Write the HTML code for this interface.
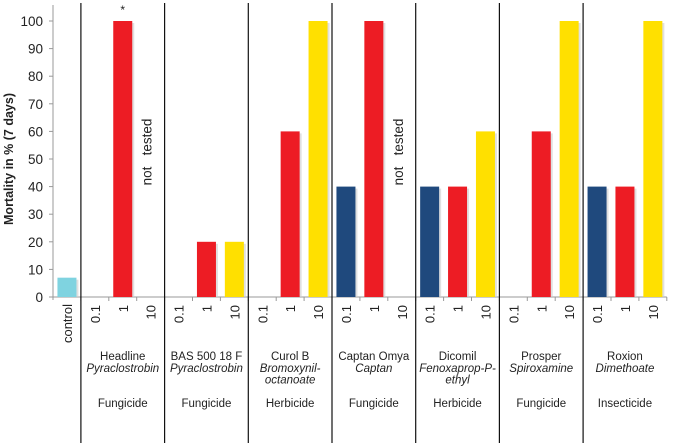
<!DOCTYPE html>
<html><head><meta charset="utf-8"><style>
body{margin:0;background:#fff;}
svg{display:block;font-family:"Liberation Sans",sans-serif;}
</style></head><body>
<svg id="chart" width="675" height="446" viewBox="0 0 675 446"></svg>
<script>
const doses = ["0.1","1","10"];
const controlValue = 7;
const groupNames = ["Headline","BAS 500 18 F","Curol B","Captan Omya","Dicomil","Prosper","Roxion"];
const groupActives = [["Pyraclostrobin"],["Pyraclostrobin"],["Bromoxynil-","octanoate"],["Captan"],["Fenoxaprop-P-","ethyl"],["Spiroxamine"],["Dimethoate"]];
const groupTypes = ["Fungicide","Fungicide","Herbicide","Fungicide","Herbicide","Fungicide","Insecticide"];
const dose01 = [0,0,0,40,40,0,40];
const dose1 = [100,20,60,100,40,60,40];
const dose10 = [null,20,100,null,60,100,100];
const yTicks = [0,10,20,30,40,50,60,70,80,90,100];

const svg = document.getElementById('chart');
const NS = "http://www.w3.org/2000/svg";
const x0 = 53, slotW = 27.9, y0 = 297, pxPer = 2.76, barW = 19;
const colors = ["#1f497d","#ed1c24","#ffe000"];
const y = v => y0 - v * pxPer;
const slotC = i => x0 + (i + 0.5) * slotW;
function mk(tag, attrs, text){const e=document.createElementNS(NS,tag);for(const k in attrs)e.setAttribute(k,attrs[k]);if(text!==undefined)e.textContent=text;svg.appendChild(e);return e;}

let ax = mk('line',{x1:x0,y1:5,x2:x0,y2:y0+3,stroke:'#999','stroke-width':1});


yTicks.forEach(t=>{
  let l=mk('line',{x1:x0-4,y1:y(t),x2:x0,y2:y(t),stroke:'#999'});
  
  
  let tx=mk('text',{x:x0-10,y:y(t)+5,'text-anchor':'end','font-size':13.5,fill:'#222'},String(t));
  
  
});
let yt=mk('text',{x:0,y:0,transform:'translate(13,159) rotate(-90)','text-anchor':'middle','font-size':12.5,'font-weight':'bold',fill:'#222'},'Mortality in % (7 days)');


let xa=mk('line',{x1:x0,y1:y0,x2:x0+22*slotW,y2:y0,stroke:'#999'});


for(let i=1;i<=22;i++){
  let tk=mk('line',{x1:x0+i*slotW,y1:y0,x2:x0+i*slotW,y2:y0+4,stroke:'#999'});
  
  
}
function bar(i,v,color,name){
  if(v===null||v<=0)return;
  let s=mk('rect',{x:slotC(i)-barW/2+2,y:y(v)+2,width:barW,height:v*pxPer-2,fill:'#ccc',opacity:0.6});
  
  
  let r=mk('rect',{x:slotC(i)-barW/2,y:y(v),width:barW,height:v*pxPer,fill:color});
  
  
}
bar(0,controlValue,'#7fd3e0','bar-control');
let cl=mk('text',{x:0,y:0,transform:`translate(${slotC(0)+5},304) rotate(-90)`,'text-anchor':'end','font-size':13,fill:'#222'},'control');


const series=[dose01,dose1,dose10];
groupNames.forEach((g,gi)=>{
  const gx = x0 + slotW*(1+gi*3);
  let sep=mk('line',{x1:gx,y1:3,x2:gx,y2:443,stroke:'#111','stroke-width':1.2});
  
  
  for(let d=0;d<3;d++){
    const i=1+gi*3+d;
    bar(i,series[d][gi],colors[d],'bar-'+g.toLowerCase().replace(/\s+/g,'-')+'-'+doses[d]);
    let dl=mk('text',{x:0,y:0,transform:`translate(${slotC(i)+5},305) rotate(-90)`,'text-anchor':'end','font-size':13,fill:'#222'},doses[d]);
    
    
    if(series[d][gi]===null){
      let nt=mk('text',{x:0,y:0,transform:`translate(${slotC(i)+1},152) rotate(-90)`,'text-anchor':'middle','font-size':13.5,fill:'#222',style:'white-space:pre'},'not   tested');
      
      
    }
  }
  const cx = gx + 1.5*slotW;
  let nm=mk('text',{x:cx,y:360,'text-anchor':'middle','font-size':11.5,fill:'#222'},g);
  
  
  groupActives[gi].forEach((a,ai)=>{
    let at=mk('text',{x:cx,y:372+ai*11.5,'text-anchor':'middle','font-size':11.5,'font-style':'italic',fill:'#222'},a);
    
    
  });
  let ty=mk('text',{x:cx,y:407,'text-anchor':'middle','font-size':11.5,fill:'#222'},groupTypes[gi]);
  
  
});
let st=mk('text',{x:slotC(2),y:14,'text-anchor':'middle','font-size':12,fill:'#222'},'*');


</script>
</body></html>
